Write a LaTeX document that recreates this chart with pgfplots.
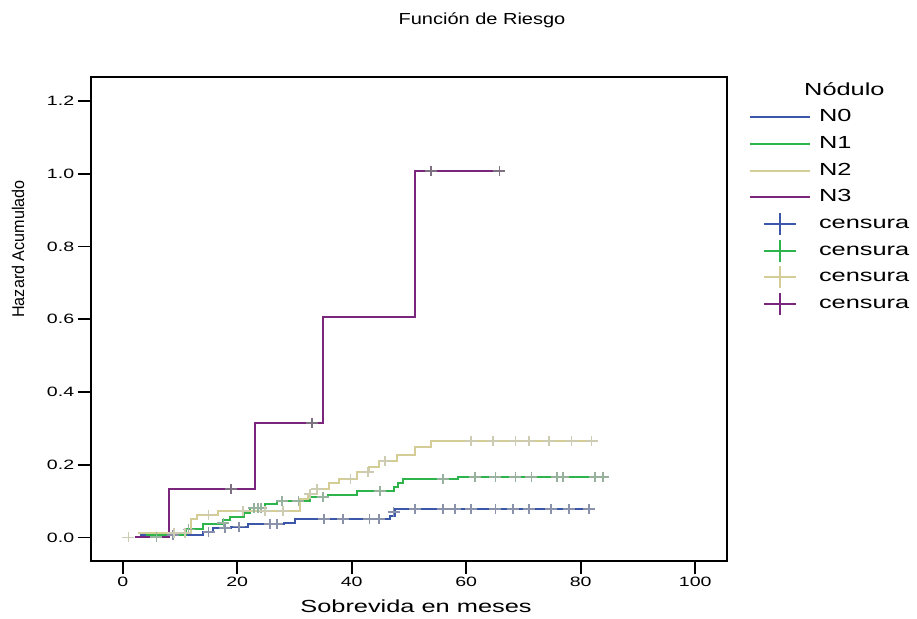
\documentclass[border=0pt]{standalone}
\usepackage{pgfplots}
\pgfplotsset{compat=1.18}
\usepackage{fontspec}
\setmainfont{Liberation Sans}[FakeStretch=1.45]
\newfontfamily\ylabfont{Liberation Sans}[FakeStretch=0.95]
\newfontfamily\titlefont{Liberation Sans}[FakeStretch=1.25]
\definecolor{cN0}{RGB}{60,86,170}
\definecolor{cN1}{RGB}{45,180,75}
\definecolor{cN2}{RGB}{212,206,150}
\definecolor{cN3}{RGB}{122,38,125}
\definecolor{gN0}{RGB}{138,145,170}
\definecolor{gN1}{RGB}{150,178,158}
\definecolor{gN2}{RGB}{205,204,178}
\definecolor{gN3}{RGB}{125,112,128}
\begin{document}
\begin{tikzpicture}
\begin{axis}[
  at={(0,0)}, anchor=south west,
  scale only axis,
  width=636bp, height=484bp,
  xmin=-5.59, xmax=105.5,
  ymin=-0.064, ymax=1.267,
  xtick={0,20,40,60,80,100},
  ytick={0,0.2,0.4,0.6,0.8,1.0,1.2},
  tick pos=left,
  tick align=outside,
  major tick length=13bp,
  axis line style={line width=1.8bp, black},
  every tick/.style={line width=1.8bp, black},
  /pgf/number format/assume math mode=true,
  ticklabel style={font=\fontsize{13.5bp}{15bp}\selectfont},
  yticklabel style={/pgf/number format/.cd, fixed, fixed zerofill, precision=1},
  xlabel={Sobrevida en meses},
  xlabel style={at={(axis description cs:0.5115,-0.108)}, anchor=base, font=\fontsize{17.5bp}{20bp}\selectfont},
  ylabel={Hazard Acumulado},
  ylabel style={at={(axis description cs:-0.1143,0.644)}, anchor=center, font=\ylabfont\fontsize{17bp}{19bp}\selectfont},
  legend cell align=left,
  legend style={at={(axis description cs:1,1)}, anchor=north west,
    xshift=22.3bp, yshift=-32bp, draw=none, fill=none,
    inner sep=0pt, outer sep=0pt,
    nodes={inner sep=0pt, text height=13bp, text depth=4bp},
    column sep=8bp, row sep=9.7bp,
    font=\fontsize{17.5bp}{20bp}\selectfont},
  clip=false,
]
% ---- step lines ----
\addplot[const plot, cN0, line width=2bp,
  legend image code/.code={\draw[cN0, line width=2bp] (0bp,0bp) -- (60bp,0bp);}]
coordinates {(3.0,0.006)(14.1,0.015)(15.8,0.025)(19.0,0.030)(21.9,0.036)(28.1,0.041)(30.1,0.051)(46.7,0.059)(47.6,0.078)(81.9,0.078)};
\addlegendentry{N0}
\addplot[const plot, cN1, line width=2bp,
  legend image code/.code={\draw[cN1, line width=2bp] (0bp,0bp) -- (60bp,0bp);}]
coordinates {(4.0,0.008)(11.0,0.022)(14.0,0.036)(17.6,0.047)(18.75,0.056)(21.1,0.068)(22.2,0.080)(24.9,0.091)(27.0,0.101)(32.7,0.112)(35.9,0.118)(40.9,0.128)(47.3,0.139)(48.0,0.151)(48.9,0.160)(58.6,0.167)(84.5,0.167)};
\addlegendentry{N1}
\addplot[const plot, cN2, line width=2bp,
  legend image code/.code={\draw[cN2, line width=2bp] (0bp,0bp) -- (60bp,0bp);}]
coordinates {(2.7,0.012)(11.9,0.050)(12.9,0.063)(16.7,0.073)(30.9,0.107)(32.4,0.119)(33.9,0.133)(36.0,0.151)(37.8,0.162)(40.9,0.179)(43.1,0.194)(44.8,0.211)(47.9,0.228)(51.1,0.249)(53.9,0.265)(82.9,0.265)};
\addlegendentry{N2}
\addplot[const plot, cN3, line width=2bp,
  legend image code/.code={\draw[cN3, line width=2bp] (0bp,0bp) -- (60bp,0bp);}]
coordinates {(2.1,0.0)(8.0,0.133)(23.06,0.315)(34.9,0.607)(51.1,1.008)(65.8,1.008)};
\addlegendentry{N3}
% ---- censored marks ----
\addplot[only marks, mark=+, mark size=5bp, mark options={xscale=1.2, line width=1.8bp, draw=gN0},
  legend image code/.code={\path[draw=none] (0bp,0bp) -- (60bp,0bp); \draw[overlay, cN0, line width=1.8bp] (14bp,0bp) -- (46bp,0bp) (30bp,-11bp) -- (30bp,11bp);}]
coordinates {(8.8,0.006)(15.0,0.015)(17.9,0.025)(20.3,0.030)(25.7,0.036)(26.9,0.036)(35.1,0.051)(38.5,0.051)(43.1,0.051)(44.8,0.051)(47.3,0.070)(51.1,0.078)(55.9,0.078)(58.1,0.078)(60.9,0.078)(65.1,0.078)(68.2,0.078)(71.0,0.078)(74.8,0.078)(78.0,0.078)(81.5,0.078)};
\addlegendentry{censura}
\addplot[only marks, mark=+, mark size=5bp, mark options={xscale=1.2, line width=1.8bp, draw=gN1},
  legend image code/.code={\path[draw=none] (0bp,0bp) -- (60bp,0bp); \draw[overlay, cN1, line width=1.8bp] (14bp,0bp) -- (46bp,0bp) (30bp,-11bp) -- (30bp,11bp);}]
coordinates {(5.9,0.002)(11.5,0.022)(17.6,0.040)(23.0,0.080)(23.6,0.080)(24.2,0.080)(27.8,0.101)(30.7,0.101)(35.0,0.112)(45.0,0.128)(55.9,0.160)(61.6,0.167)(65.1,0.167)(68.6,0.167)(71.4,0.167)(75.9,0.167)(76.9,0.167)(82.5,0.167)(83.9,0.167)};
\addlegendentry{censura}
\addplot[only marks, mark=+, mark size=5bp, mark options={xscale=1.2, line width=1.8bp, draw=gN2},
  legend image code/.code={\path[draw=none] (0bp,0bp) -- (60bp,0bp); \draw[overlay, cN2, line width=1.8bp] (14bp,0bp) -- (46bp,0bp) (30bp,-11bp) -- (30bp,11bp);}]
coordinates {(1.0,0.0)(9.0,0.012)(10.9,0.012)(15.0,0.063)(21.0,0.073)(24.9,0.073)(28.0,0.073)(32.7,0.119)(33.9,0.133)(39.8,0.162)(42.9,0.179)(45.8,0.211)(60.9,0.265)(64.7,0.265)(68.6,0.265)(71.0,0.265)(74.5,0.265)(78.4,0.265)(81.9,0.265)};
\addlegendentry{censura}
\addplot[only marks, mark=+, mark size=5bp, mark options={xscale=1.2, line width=1.8bp, draw=gN3},
  legend image code/.code={\path[draw=none] (0bp,0bp) -- (60bp,0bp); \draw[overlay, cN3, line width=1.8bp] (14bp,0bp) -- (46bp,0bp) (30bp,-11bp) -- (30bp,11bp);}]
coordinates {(18.9,0.133)(33.1,0.315)(53.9,1.008)(65.8,1.008)};
\addlegendentry{censura}
\end{axis}
\node[anchor=base west, font=\fontsize{17.5bp}{20bp}\selectfont, inner sep=0pt] at (713.3bp,464.7bp) {Nódulo};
\node[anchor=center, font=\titlefont\fontsize{16bp}{18bp}\selectfont, inner sep=0pt] at (391.3bp,540.7bp) {Función de Riesgo};
\pgfresetboundingbox
\path (-90.7bp,-58.3bp) rectangle (826.3bp,560.7bp);
\end{tikzpicture}
\end{document}
